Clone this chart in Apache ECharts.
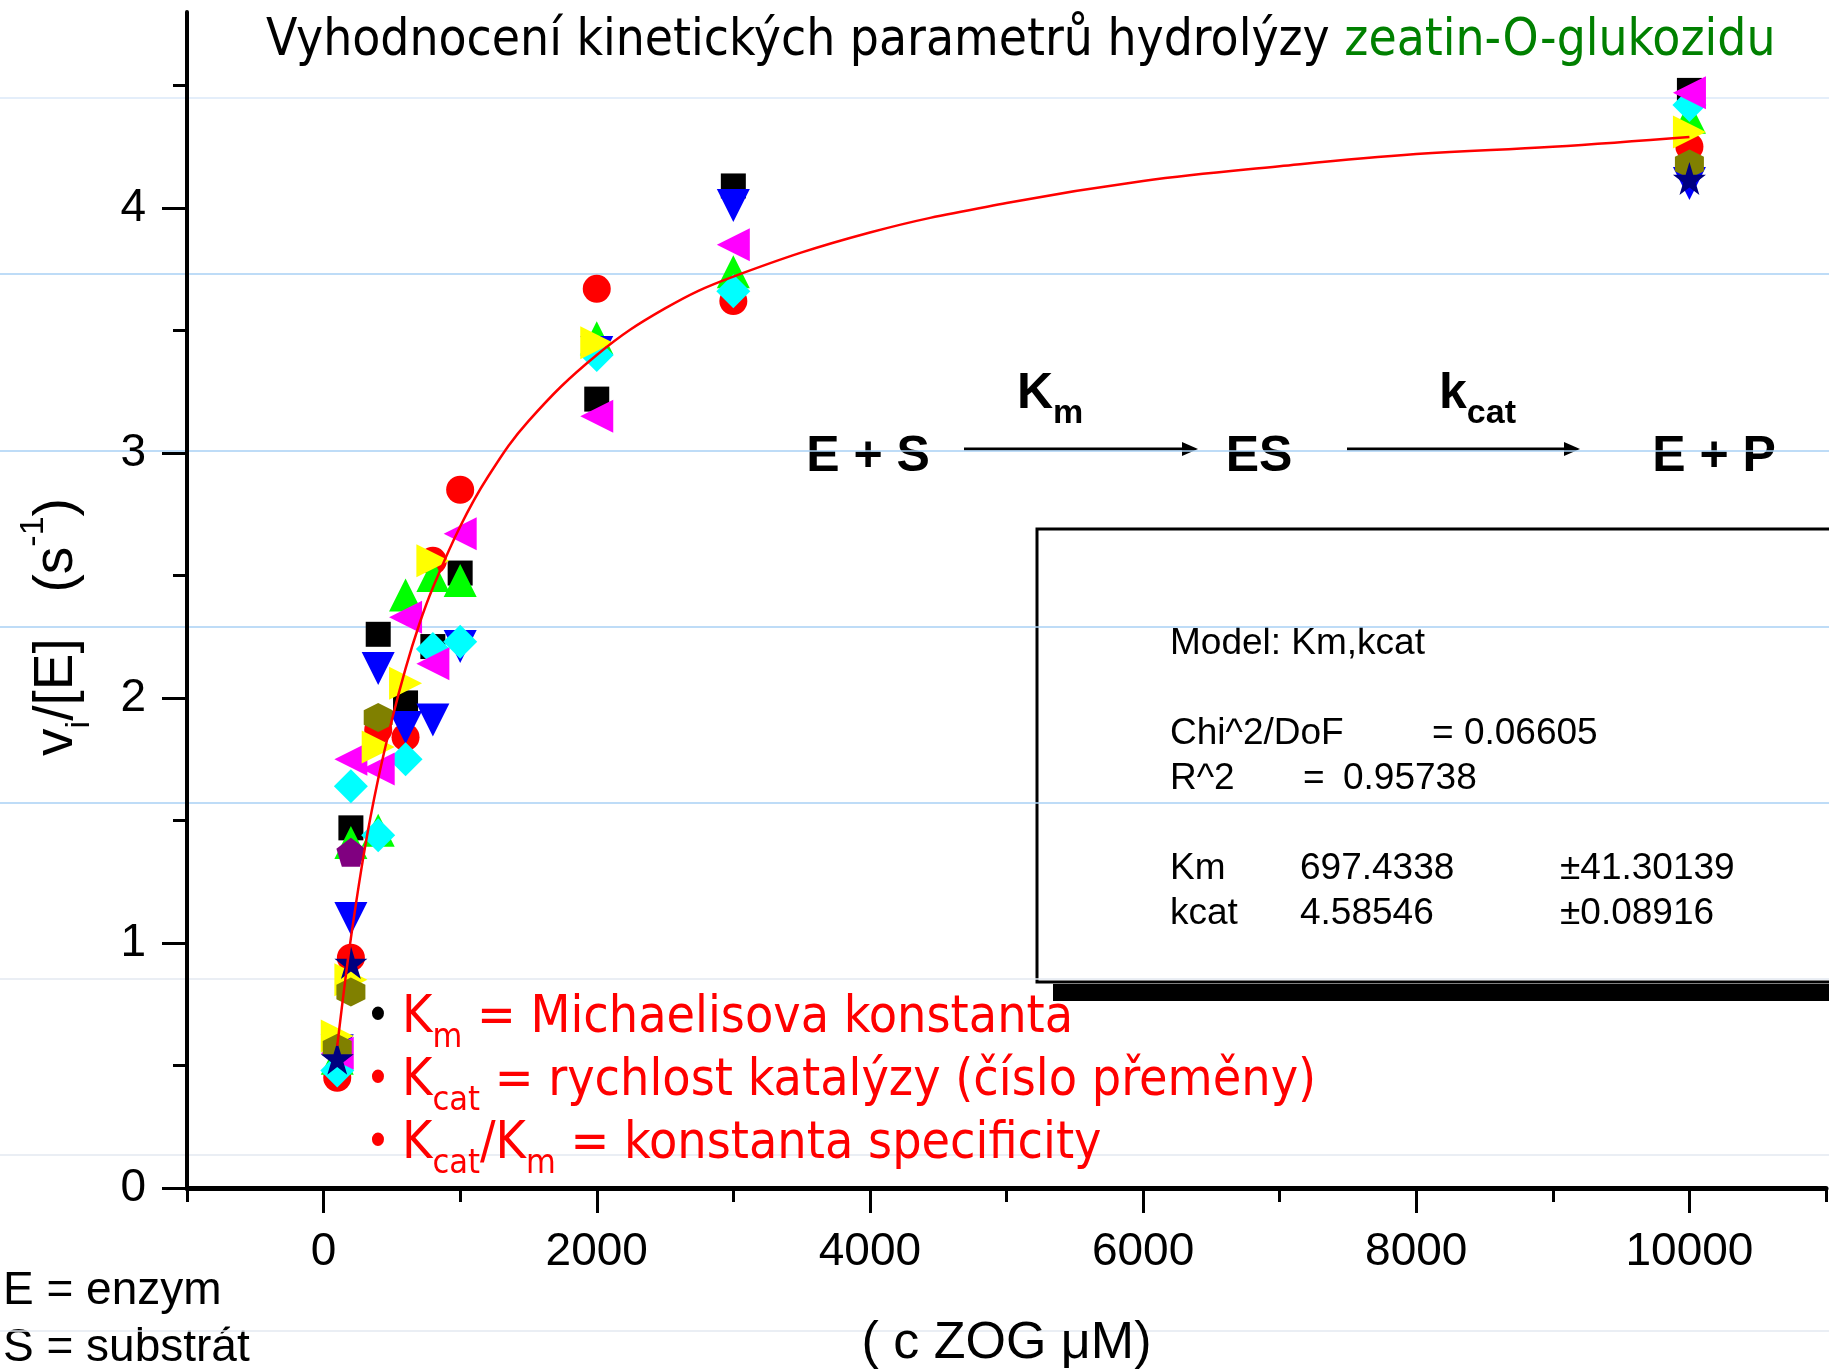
<!DOCTYPE html>
<html lang="cs">
<head>
<meta charset="UTF-8" />
<title>Vyhodnocení kinetických parametrů hydrolýzy zeatin-O-glukozidu</title>
<script src="https://cdn.jsdelivr.net/npm/echarts@6.0.0/dist/echarts.min.js"></script>
<style>
  html, body { margin: 0; padding: 0; background: #fff; }
  #chart { width: 1829px; height: 1369px; }
</style>
</head>
<body>
<div id="chart"></div>
<script>
  // koncentrace ZOG (uM)
  const conc = [100, 200, 400, 600, 800, 1000, 2000, 3000, 10000];

  // vi/[E] (s^-1), one array per measurement, null = no point
  const blackSq   = [null, 1.47, 2.26, 1.98, 2.21, 2.51, 3.22, 4.09, 4.48];
  const redCirc   = [0.45, 0.94, 1.87, 1.84, 2.56, 2.85, 3.67, 3.62, 4.25];
  const greenUp   = [0.53, 1.41, 1.46, 2.42, 2.50, 2.48, 3.47, 3.74, 4.37];
  const blueDown  = [0.56, 1.10, 2.12, 1.88, 1.91, 2.21, 3.41, 4.01, 4.10];
  const cyanDia   = [0.48, 1.64, 1.44, 1.75, 2.20, 2.23, 3.40, 3.66, 4.42];
  const magLeft   = [0.55, 1.75, 1.71, 2.33, 2.14, 2.67, 3.15, 3.85, 4.47];
  const yelRight  = [0.62, 0.85, 1.80, 2.06, 2.56, null, 3.45, null, 4.31];
  const oliveHex  = [0.57, 0.80, 1.92, null, null, null, null, null, 4.18];
  const navyStar  = [0.53, 0.92, null, null, null, null, null, null, 4.12];
  const purplePen = [null, 1.37, null, null, null, null, null, null, null];

  // fitted curve
  const fitX = [100, 150, 200, 300, 400, 500, 600, 700, 800, 1000, 1200, 1500, 2000, 2500, 3000, 4000, 5000, 6000, 7000, 8000, 9000, 10000];
  const fitY = [0.58, 0.81, 1.02, 1.38, 1.67, 1.91, 2.12, 2.30, 2.45, 2.70, 2.90, 3.13, 3.40, 3.59, 3.72, 3.90, 4.02, 4.11, 4.17, 4.22, 4.25, 4.29];

  const xMajor = [0, 2000, 4000, 6000, 8000, 10000];
  const xMinor = [-1000, 1000, 3000, 5000, 7000, 9000, 11000];
  const yMajor = [0, 1, 2, 3, 4];
  const yMinor = [0.5, 1.5, 2.5, 3.5, 4.5];

  // slide ruling lines (bottom to top)
  const ruleColors = ['#e3e8f0', '#e3e8f0', '#e3e8f0', '#a9d0f5', '#a9d0f5', '#a9d0f5', '#a9d0f5', '#dbe9f8'];

  const HEX = 'path://M50,0 L93,25 L93,75 L50,100 L7,75 L7,25 Z';
  const STAR = 'path://M50,0 L61,35 L98,35 L68,57 L79,91 L50,70 L21,91 L32,57 L2,35 L39,35 Z';
  const PENT = 'path://M50,0 L98,36 L80,95 L20,95 L2,36 Z';

  const markers = [
    { vals: blackSq,   color: '#000000', symbol: 'rect',     size: 25, rot: 0 },
    { vals: redCirc,   color: '#ff0000', symbol: 'circle',   size: 28, rot: 0 },
    { vals: greenUp,   color: '#00ff00', symbol: 'triangle', size: 33, rot: 0 },
    { vals: blueDown,  color: '#0000ff', symbol: 'triangle', size: 33, rot: 180 },
    { vals: cyanDia,   color: '#00ffff', symbol: 'diamond',  size: 34, rot: 0 },
    { vals: magLeft,   color: '#ff00ff', symbol: 'triangle', size: 33, rot: 90 },
    { vals: yelRight,  color: '#ffff00', symbol: 'triangle', size: 33, rot: -90 },
    { vals: oliveHex,  color: '#808000', symbol: HEX,        size: 29, rot: 0 },
    { vals: navyStar,  color: '#000080', symbol: STAR,       size: 33, rot: 0 },
    { vals: purplePen, color: '#800080', symbol: PENT,       size: 29, rot: 0 }
  ];

  function pts(vals) {
    return conc.map((x, i) => vals[i] == null ? null : [x, vals[i]]).filter(Boolean);
  }

  const scatterSeries = markers.map((m) => ({
    type: 'scatter',
    xAxisIndex: 0,
    yAxisIndex: 0,
    symbol: m.symbol,
    symbolSize: m.size,
    symbolRotate: m.rot,
    itemStyle: { color: m.color, opacity: 1 },
    data: pts(m.vals),
    z: 3
  }));

  const fitSeries = {
    type: 'line',
    xAxisIndex: 0,
    yAxisIndex: 0,
    data: fitX.map((x, i) => [x, fitY[i]]),
    showSymbol: false,
    smooth: 0.4,
    lineStyle: { color: '#ff0000', width: 2.5 },
    z: 5
  };

  const AR = 'Liberation Sans';
  const TH = 'DejaVu Sans Condensed';

  function subRich(fs, sfs, lh, color, fam, weight) {
    return {
      a: { fontSize: fs, fontFamily: fam, fill: color, fontWeight: weight || 'normal', lineHeight: lh },
      s: { fontSize: sfs, fontFamily: fam, fill: color, fontWeight: weight || 'normal', lineHeight: sfs, verticalAlign: 'bottom' },
      u: { fontSize: sfs, fontFamily: fam, fill: color, fontWeight: weight || 'normal', lineHeight: sfs, verticalAlign: 'top' }
    };
  }

  const legendLines = [
    { y: 1019, bullet: '#000000', text: '{a|K}{s|m}{a| = Michaelisova konstanta}' },
    { y: 1082, bullet: '#ff0000', text: '{a|K}{s|cat}{a| = rychlost katalýzy (číslo přeměny)}' },
    { y: 1145, bullet: '#ff0000', text: '{a|K}{s|cat}{a|/K}{s|m}{a| = konstanta specificity}' }
  ];

  const graphics = [
    // title
    {
      type: 'text', x: 266, y: 42,
      style: {
        text: '{k|Vyhodnocení kinetických parametrů hydrolýzy }{g|zeatin-O-glukozidu}',
        verticalAlign: 'middle',
        rich: {
          k: { fontSize: 51, fontFamily: TH, fill: '#000000' },
          g: { fontSize: 51, fontFamily: TH, fill: '#008000' }
        }
      }
    },
    // y axis title
    {
      type: 'text', x: 57, y: 627, rotation: Math.PI / 2,
      style: {
        text: '{a|v}{s|i}{a|/[E]   (s}{u|-1}{a|)}',
        align: 'center', verticalAlign: 'middle',
        rich: subRich(55, 34, 80, '#000000', AR)
      }
    },
    // E / S note
    { type: 'text', x: 3, y: 1291, style: { text: 'E = enzym', font: '46px ' + AR, fill: '#000', verticalAlign: 'middle' } },
    { type: 'text', x: 3, y: 1348, style: { text: 'S = substrát', font: '46px ' + AR, fill: '#000', verticalAlign: 'middle' } },
    // reaction scheme
    { type: 'text', x: 868, y: 457, style: { text: 'E + S', font: 'bold 50px ' + AR, fill: '#000', align: 'center', verticalAlign: 'middle' } },
    { type: 'text', x: 1259, y: 457, style: { text: 'ES', font: 'bold 50px ' + AR, fill: '#000', align: 'center', verticalAlign: 'middle' } },
    { type: 'text', x: 1714, y: 457, style: { text: 'E + P', font: 'bold 50px ' + AR, fill: '#000', align: 'center', verticalAlign: 'middle' } },
    { type: 'line', shape: { x1: 964, y1: 449, x2: 1188, y2: 449 }, style: { stroke: '#000', lineWidth: 3 } },
    { type: 'polygon', shape: { points: [[1198, 449], [1182, 442], [1182, 456]] }, style: { fill: '#000' } },
    { type: 'line', shape: { x1: 1347, y1: 449, x2: 1570, y2: 449 }, style: { stroke: '#000', lineWidth: 3 } },
    { type: 'polygon', shape: { points: [[1580, 449], [1564, 442], [1564, 456]] }, style: { fill: '#000' } },
    {
      type: 'text', x: 1017, y: 394,
      style: { text: '{a|K}{s|m}', verticalAlign: 'middle', rich: subRich(50, 34, 74, '#000', AR, 'bold') }
    },
    {
      type: 'text', x: 1439, y: 394,
      style: { text: '{a|k}{s|cat}', verticalAlign: 'middle', rich: subRich(50, 34, 74, '#000', AR, 'bold') }
    },
    // fit results box
    { type: 'rect', shape: { x: 1053, y: 984, width: 800, height: 17 }, style: { fill: '#000' } },
    { type: 'rect', shape: { x: 1037, y: 529, width: 900, height: 453 }, style: { fill: 'none', stroke: '#000', lineWidth: 3 } },
    { type: 'text', x: 1170, y: 644, style: { text: 'Model: Km,kcat', font: '37px ' + AR, fill: '#000', verticalAlign: 'middle' } },
    { type: 'text', x: 1170, y: 734, style: { text: 'Chi^2/DoF', font: '37px ' + AR, fill: '#000', verticalAlign: 'middle' } },
    { type: 'text', x: 1432, y: 734, style: { text: '= 0.06605', font: '37px ' + AR, fill: '#000', verticalAlign: 'middle' } },
    { type: 'text', x: 1170, y: 779, style: { text: 'R^2', font: '37px ' + AR, fill: '#000', verticalAlign: 'middle' } },
    { type: 'text', x: 1303, y: 779, style: { text: '=', font: '37px ' + AR, fill: '#000', verticalAlign: 'middle' } },
    { type: 'text', x: 1343, y: 779, style: { text: '0.95738', font: '37px ' + AR, fill: '#000', verticalAlign: 'middle' } },
    { type: 'text', x: 1170, y: 869, style: { text: 'Km', font: '37px ' + AR, fill: '#000', verticalAlign: 'middle' } },
    { type: 'text', x: 1300, y: 869, style: { text: '697.4338', font: '37px ' + AR, fill: '#000', verticalAlign: 'middle' } },
    { type: 'text', x: 1560, y: 869, style: { text: '±41.30139', font: '37px ' + AR, fill: '#000', verticalAlign: 'middle' } },
    { type: 'text', x: 1170, y: 914, style: { text: 'kcat', font: '37px ' + AR, fill: '#000', verticalAlign: 'middle' } },
    { type: 'text', x: 1300, y: 914, style: { text: '4.58546', font: '37px ' + AR, fill: '#000', verticalAlign: 'middle' } },
    { type: 'text', x: 1560, y: 914, style: { text: '±0.08916', font: '37px ' + AR, fill: '#000', verticalAlign: 'middle' } }
  ];

  legendLines.forEach((l) => {
    graphics.push({ type: 'text', x: 378, y: l.y, z: 10, style: { text: '•', font: '46px ' + TH, fill: l.bullet, align: 'center', verticalAlign: 'middle' } });
    graphics.push({ type: 'text', x: 402, y: l.y, z: 10, style: { text: l.text, verticalAlign: 'middle', rich: subRich(51.5, 34, 72, '#ff0000', TH) } });
  });

  const plain = (v) => String(v);

  const chart = echarts.init(document.getElementById('chart'));
  chart.setOption({
    animation: false,
    backgroundColor: '#ffffff',
    grid: [
      { left: 187, right: 3, top: 12, bottom: 181, outerBoundsMode: 'none', containLabel: false },
      { left: 0, right: 0, top: 98, bottom: 38, outerBoundsMode: 'none' } // slide ruling
    ],
    xAxis: [
      {
        gridIndex: 0, type: 'value', min: -1000, max: 11000, position: 'bottom',
        axisLine: { onZero: false, lineStyle: { color: '#000', width: 5 } },
        axisTick: { customValues: xMajor, length: 25, lineStyle: { color: '#000', width: 3 } },
        axisLabel: { customValues: xMajor, formatter: plain, fontSize: 46, fontFamily: AR, color: '#000', margin: 41 },
        splitLine: { show: false },
        name: '( c ZOG μM)', nameLocation: 'middle', nameGap: 130,
        nameTextStyle: { fontSize: 52, fontFamily: AR, color: '#000' }
      },
      {
        gridIndex: 0, type: 'value', min: -1000, max: 11000, position: 'bottom',
        axisLine: { show: false, onZero: false },
        axisTick: { customValues: xMinor, length: 14, lineStyle: { color: '#000', width: 3 } },
        axisLabel: { show: false },
        splitLine: { show: false }
      },
      { gridIndex: 1, type: 'value', show: false, min: 0, max: 1 }
    ],
    yAxis: [
      {
        gridIndex: 0, type: 'value', min: 0, max: 4.8, position: 'left',
        axisLine: { show: true, onZero: false, lineStyle: { color: '#000', width: 4 } },
        axisTick: { show: true, customValues: yMajor, length: 25, lineStyle: { color: '#000', width: 3 } },
        axisLabel: { customValues: yMajor, formatter: plain, fontSize: 46, fontFamily: AR, color: '#000', margin: 41 },
        splitLine: { show: false }
      },
      {
        gridIndex: 0, type: 'value', min: 0, max: 4.8, position: 'left',
        axisLine: { show: false, onZero: false },
        axisTick: { show: true, customValues: yMinor, length: 14, lineStyle: { color: '#000', width: 3 } },
        axisLabel: { show: false },
        splitLine: { show: false }
      },
      {
        gridIndex: 1, type: 'value', min: 0, max: 7, interval: 1,
        axisLine: { show: false }, axisTick: { show: false }, axisLabel: { show: false },
        splitLine: { show: true, lineStyle: { color: ruleColors, width: 1.5 } }
      }
    ],
    series: scatterSeries.concat([fitSeries]),
    graphic: graphics
  });
</script>
</body>
</html>
